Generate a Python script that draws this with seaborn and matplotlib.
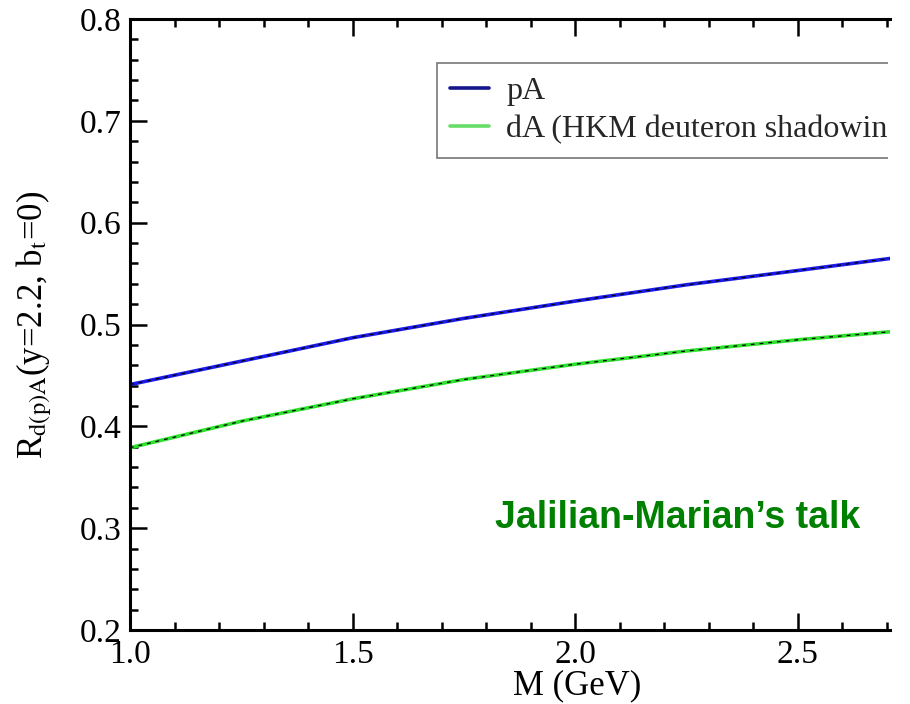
import matplotlib
matplotlib.use("Agg")
import matplotlib.pyplot as plt
import pandas as pd
import seaborn as sns
from matplotlib.ticker import MultipleLocator, FormatStrFormatter
from matplotlib.transforms import Bbox, TransformedBbox

# values
mass = [1.0, 1.25, 1.5, 1.75, 2.0, 2.25, 2.5, 2.71]
ratio_pA = [0.441, 0.464, 0.487, 0.506, 0.523, 0.539, 0.553, 0.565]
ratio_dA = [0.379, 0.405, 0.427, 0.446, 0.461, 0.474, 0.485, 0.493]
series_labels = ["pA", "dA (HKM deuteron shadowing)"]
series_colors = ["#1a1ae6", "#2ee02e"]

df = pd.concat(
    [
        pd.DataFrame({"M": mass, "R": ratio_pA, "series": series_labels[0]}),
        pd.DataFrame({"M": mass, "R": ratio_dA, "series": series_labels[1]}),
    ],
    ignore_index=True,
)

sns.set_theme(style="ticks")
plt.rcParams["font.family"] = ["Liberation Serif", "DejaVu Serif"]
plt.rcParams["mathtext.fontset"] = "stix"

fig = plt.figure(figsize=(9.1, 7.04), dpi=100)
ax = fig.add_axes([130 / 910, 74 / 704, 760 / 910, 611 / 704])

sns.lineplot(
    data=df, x="M", y="R", hue="series",
    palette=dict(zip(series_labels, series_colors)),
    linewidth=2.6, ax=ax,
)
handles, labels = ax.get_legend_handles_labels()
# thin black dashed overlay seen on both curves
sns.lineplot(
    data=df, x="M", y="R", units="series", estimator=None,
    color="black", linewidth=0.9, legend=False, ax=ax,
)
ax.lines[-1].set_linestyle((0, (3, 4)))
ax.lines[-2].set_linestyle((0, (3, 4)))

ax.set_xlim(1.0, 2.707)
ax.set_ylim(0.2, 0.8)
ax.xaxis.set_major_locator(MultipleLocator(0.5))
ax.xaxis.set_minor_locator(MultipleLocator(0.1))
ax.yaxis.set_major_locator(MultipleLocator(0.1))
ax.yaxis.set_minor_locator(MultipleLocator(0.02))
ax.xaxis.set_major_formatter(FormatStrFormatter("%.1f"))
ax.yaxis.set_major_formatter(FormatStrFormatter("%.1f"))

ax.spines["right"].set_visible(False)
for side in ["left", "top", "bottom"]:
    ax.spines[side].set_linewidth(2.2)
    ax.spines[side].set_color("black")
ax.tick_params(which="both", direction="in", top=True, right=False,
               width=1.8, colors="black", labelsize=24)
ax.tick_params(which="major", length=12)
ax.tick_params(which="minor", length=6)
ax.tick_params(axis="x", pad=7)
ax.tick_params(axis="y", pad=6)

ax.set_xlabel("M (GeV)", fontsize=25, color="black")
ax.xaxis.set_label_coords(0.588, -0.064)
ax.set_ylabel(r"R$_{\rm d(p)A}$(y=2.2, b$_{\rm t}$=0)", fontsize=25, color="black")
ax.yaxis.set_label_coords(-0.1, 0.5)

leg = ax.legend(
    handles, labels, loc="upper left", bbox_to_anchor=(0.404, 0.928),
    fontsize=23, frameon=True, fancybox=False, handlelength=1.2,
    handletextpad=0.55, labelspacing=0.28, borderpad=0.42, borderaxespad=0,
)
leg.get_frame().set_edgecolor("#555555")
leg.get_frame().set_linewidth(1.2)
leg.legend_handles[0].set_color("#14148c")
leg.legend_handles[1].set_color("#66dd66")
# the reference is cropped just at the right edge of the plot
clip = TransformedBbox(Bbox([[-0.2, -0.2], [0.997, 1.2]]), ax.transAxes)
for artist in [leg.get_frame()] + leg.get_texts():
    artist.set_clip_box(clip)
    artist.set_clip_on(True)

ax.text(0.48, 0.183, "Jalilian-Marian\u2019s talk", transform=ax.transAxes,
        fontsize=27, fontweight="bold", color="#008000", va="center",
        family=["Liberation Sans", "DejaVu Sans"])

plt.savefig("out.png", dpi=100)
plt.close()
